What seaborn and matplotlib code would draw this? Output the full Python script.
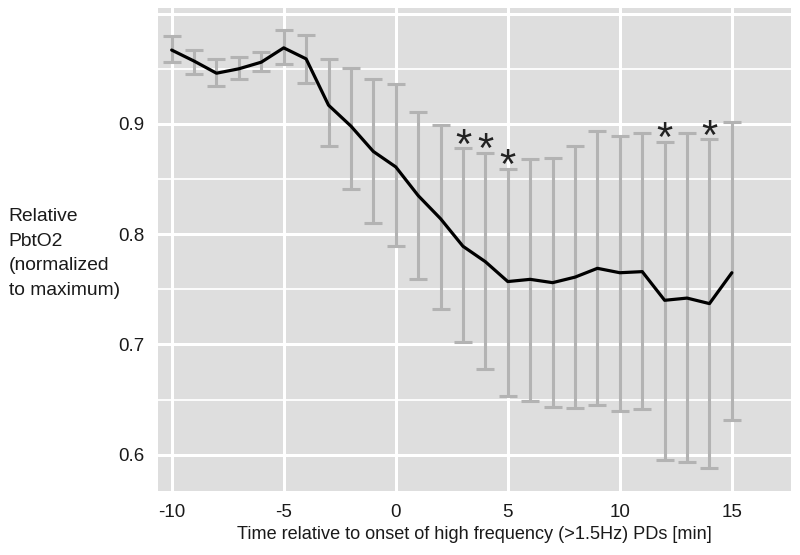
import matplotlib
matplotlib.use("Agg")
import matplotlib.pyplot as plt
import seaborn as sns
import pandas as pd
import numpy as np

# values
minutes = [-10, -9, -8, -7, -6, -5, -4, -3, -2, -1, 0, 1, 2, 3, 4, 5, 6, 7, 8, 9, 10, 11, 12, 13, 14, 15]
pbto2 = [0.967, 0.957, 0.946, 0.950, 0.956, 0.969, 0.959, 0.917, 0.898, 0.875, 0.861, 0.835, 0.814, 0.789,
         0.775, 0.757, 0.759, 0.756, 0.761, 0.769, 0.765, 0.766, 0.740, 0.742, 0.737, 0.765]
err_hi = [0.980, 0.967, 0.959, 0.961, 0.965, 0.985, 0.981, 0.959, 0.951, 0.941, 0.936, 0.911, 0.899, 0.878,
          0.874, 0.859, 0.868, 0.869, 0.880, 0.894, 0.889, 0.892, 0.884, 0.892, 0.886, 0.902]
err_lo = [0.956, 0.945, 0.934, 0.941, 0.948, 0.954, 0.937, 0.880, 0.841, 0.810, 0.789, 0.759, 0.732, 0.702,
          0.678, 0.653, 0.649, 0.643, 0.642, 0.645, 0.640, 0.641, 0.595, 0.593, 0.588, 0.631]
signif = [3, 4, 5, 12, 14]

df = pd.DataFrame({"Minuto": minutes, "PbtO2": pbto2, "hi": err_hi, "lo": err_lo})

sns.set_theme(style="darkgrid")
plt.rcParams["font.family"] = ["Liberation Sans", "DejaVu Sans"]
plt.rcParams["axes.unicode_minus"] = False

fig = plt.figure(figsize=(8, 5.55), dpi=100)
ax = fig.add_axes([0.1975, 0.1153, 0.791, 0.8694])
ax.set_facecolor("#dedede")

## barras de error
gris = "#b3b3b3"
ax.errorbar(df["Minuto"], df["PbtO2"],
            yerr=[df["PbtO2"] - df["lo"], df["hi"] - df["PbtO2"]],
            fmt="none", ecolor=gris, elinewidth=2.2, capsize=6.8, capthick=2.2, zorder=2)

## linea media
sns.lineplot(data=df, x="Minuto", y="PbtO2", color="black", linewidth=2.3, ax=ax, zorder=3)

## asteriscos
for m in signif:
    y = df.loc[df["Minuto"] == m, "hi"].values[0]
    ax.text(m, y - 0.0085, "*", ha="center", va="baseline", fontsize=30, color="#222222", zorder=4)

ax.set_xlim(-10.61, 17.63)
ax.set_ylim(0.567, 1.0047)
ax.set_xticks([-10, -5, 0, 5, 10, 15])
ax.set_yticks([0.6, 0.7, 0.8, 0.9, 1.0])
ax.set_yticklabels(["0.6", "0.7", "0.8", "0.9", ""])
ax.set_yticks([0.65, 0.75, 0.85, 0.95], minor=True)

ax.grid(which="major", color="white", linewidth=2.2)
ax.grid(which="minor", axis="y", color="white", linewidth=1.3)
for s in ax.spines.values():
    s.set_visible(False)

ax.tick_params(axis="both", which="major", direction="out", length=3, width=1.5,
               color="#555555", labelsize=13.5, labelcolor="#1a1a1a")
ax.tick_params(axis="x", which="major", pad=6)
ax.tick_params(axis="y", which="major", pad=7)
ax.tick_params(axis="both", which="minor", length=0)

ax.set_xlabel("Time relative to onset of high frequency (>1.5Hz) PDs [min]",
              fontsize=13.1, color="#1a1a1a", labelpad=4)
ax.set_ylabel("")
fig.text(0.011, 0.543, "Relative\nPbtO2\n(normalized\nto maximum)", ha="left", va="center",
         fontsize=13.9, color="#1a1a1a", linespacing=1.58)

plt.savefig("out.png", dpi=100)
